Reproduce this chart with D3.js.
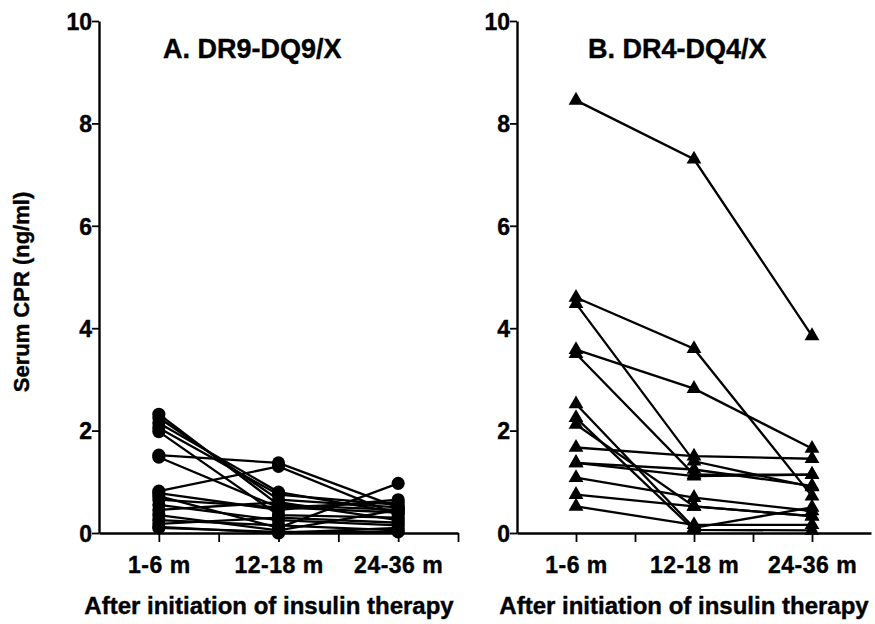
<!DOCTYPE html>
<html>
<head>
<meta charset="utf-8">
<script src="https://cdn.jsdelivr.net/npm/d3@7"></script>
<style>
  body { margin: 0; background: #fff; }
  svg text { font-family: "Liberation Sans", Arial, sans-serif; font-weight: bold; fill: #000; stroke: #000; stroke-width: 0.4; }
</style>
</head>
<body>
<svg width="875" height="624"></svg>
<script>
let periods = ['1-6 m', '12-18 m', '24-36 m'];
let yTicks = [0, 2, 4, 6, 8, 10];

// serum CPR (ng/ml) per patient at 1-6 m, 12-18 m, 24-36 m
let seriesA = [
	[2.32, 0.55, 0.45],
	[2.25, 0.65, 0.50],
	[2.15, 0.80, 0.40],
	[2.05, 0.75, 0.55],
	[1.98, 0.35, 0.30],
	[1.52, 1.37, 0.50],
	[1.48, 0.50, 0.60],
	[0.82, 1.30, 0.35],
	[0.78, 0.45, 0.65],
	[0.72, 0.10, 0.97],
	[0.65, 0.50, 0.40],
	[0.55, 0.25, 0.15],
	[0.45, 0.60, 0.25],
	[0.35, 0.05, 0.45],
	[0.25, 0.15, 0.05],
	[0.18, 0.30, 0.20],
	[0.12, 0.00, 0.10],
	[0.10, 0.02, 0.02]
];

let seriesB = [
	[8.45, 7.30, 3.85],
	[4.60, 3.60, 0.72],
	[4.48, 1.40, 0.90],
	[3.58, 2.82, 1.65],
	[3.50, 1.14, 1.14],
	[2.52, 0.10, 0.50],
	[2.25, 0.06, 0.05],
	[2.12, 0.52, 0.33],
	[1.67, 1.50, 1.45],
	[1.37, 1.24, 0.92],
	[1.37, 1.11, 1.14],
	[1.08, 0.69, 0.43],
	[0.75, 0.52, 0.33],
	[0.52, 0.16, 0.16]
];

let svg = d3.select('svg');

function drawPanel(opts) {
	let x = d3.scaleLinear().domain([-0.5, 2.5]).range(opts.xRange);
	let y = d3.scaleLinear().domain([0, 10]).range([533, 21]);
	let g = svg.append('g');

	// axes
	let xAxis = d3.axisBottom(x)
		.tickValues(opts.xTickValues)
		.tickSize(9)
		.tickSizeOuter(0)
		.tickFormat(d => Number.isInteger(d) ? periods[d] : '');
	g.append('g')
		.attr('transform', 'translate(0,533)')
		.call(xAxis)
		.call(a => a.select('.domain').attr('stroke-width', 2.4))
		.call(a => a.selectAll('.tick line').attr('stroke-width', 1.8))
		.call(a => a.selectAll('text')
			.attr('font-size', 23)
			.attr('letter-spacing', 0.5)
			.attr('dy', 0)
			.attr('y', 40));

	let yAxis = d3.axisLeft(y)
		.tickValues(yTicks)
		.tickSize(7)
		.tickSizeOuter(0);
	g.append('g')
		.attr('transform', `translate(${opts.xRange[0]},0)`)
		.call(yAxis)
		.call(a => a.select('.domain').attr('stroke-width', 2.4))
		.call(a => a.selectAll('.tick line').attr('stroke-width', 1.8))
		.call(a => a.selectAll('text')
			.attr('font-size', 23)
			.attr('x', -7)
			.attr('dy', '0.36em'));

	// patient lines
	let line = d3.line()
		.x((d, i) => x(i))
		.y(d => y(d));
	g.append('g')
		.selectAll('path')
		.data(opts.series)
		.join('path')
		.attr('d', line)
		.attr('fill', 'none')
		.attr('stroke', '#000')
		.attr('stroke-width', 2.3);

	// markers
	let pts = opts.series.flatMap(s => s.map((v, i) => ({i: i, v: v})));
	g.append('g')
		.selectAll('path')
		.data(pts)
		.join('path')
		.attr('transform', d => `translate(${x(d.i)},${y(d.v)})`)
		.attr('d', d3.symbol(opts.symbol, opts.symbolSize))
		.attr('fill', '#000');

	g.append('text')
		.attr('x', opts.titleX)
		.attr('y', 58)
		.attr('font-size', 27)
		.text(opts.title);

	g.append('text')
		.attr('x', opts.labelX)
		.attr('y', 614)
		.attr('text-anchor', 'middle')
		.attr('font-size', 24)
		.text('After initiation of insulin therapy');
}

drawPanel({
	series: seriesA,
	xRange: [99, 458],
	xTickValues: [0, 0.5, 1, 1.5, 2, 2.5],
	symbol: d3.symbolCircle,
	symbolSize: 135,
	title: 'A. DR9-DQ9/X',
	titleX: 163,
	labelX: 269
});

drawPanel({
	series: seriesB,
	xRange: [517, 871],
	xTickValues: [0, 0.5, 1, 1.5, 2],
	symbol: d3.symbolTriangle,
	symbolSize: 95,
	title: 'B. DR4-DQ4/X',
	titleX: 588,
	labelX: 684
});

svg.append('text')
	.attr('transform', 'translate(29,292) rotate(-90)')
	.attr('text-anchor', 'middle')
	.attr('font-size', 22)
	.text('Serum CPR (ng/ml)');
</script>
</body>
</html>
